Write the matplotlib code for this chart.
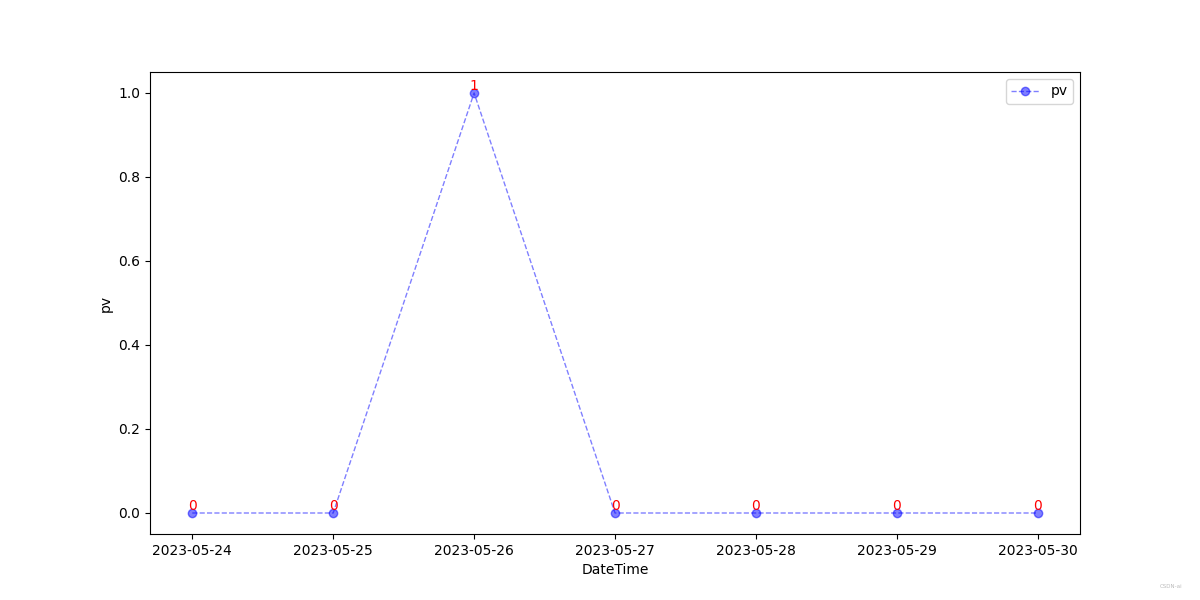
import matplotlib
matplotlib.use('Agg')
import matplotlib.pyplot as plt

dates = ['2023-05-24', '2023-05-25', '2023-05-26', '2023-05-27',
         '2023-05-28', '2023-05-29', '2023-05-30']
pv = [0, 0, 1, 0, 0, 0, 0]

def main():
    fig, ax = plt.subplots(figsize=(12, 6), dpi=100)

    ax.plot(dates, pv, color='blue', alpha=0.5, linestyle='--', marker='o',
            linewidth=1, label='pv')

    for x, y in zip(dates, pv):
        ax.text(x, y, str(y), ha='center', va='bottom', color='red', fontsize=10)

    ax.set_xlabel('DateTime')
    ax.set_ylabel('pv')
    ax.legend(loc='upper right')

    fig.text(0.985, 0.02, 'CSDN-ai', fontsize=4, color='#bbbbbb', ha='right')

    plt.savefig('out.png', dpi=100)

if __name__ == "__main__":
    main()
